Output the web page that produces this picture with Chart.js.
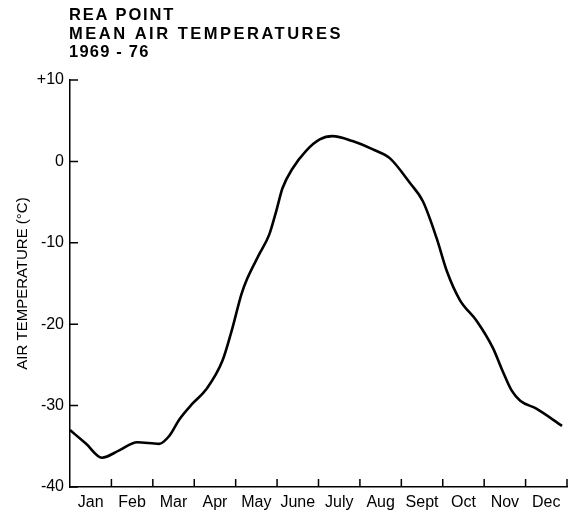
<!DOCTYPE html>
<html>
<head>
<meta charset="utf-8">
<script src="https://cdn.jsdelivr.net/npm/chart.js@4/dist/chart.umd.min.js"></script>
<style>
  html, body { margin: 0; padding: 0; background: #fff; }
  #wrap { width: 575px; height: 512px; }
</style>
</head>
<body>
<div id="wrap"><canvas id="grafico"></canvas></div>
<script>
// meses (etiquetas del eje x, centradas entre marcas)
const meses = ["Jan", "Feb", "Mar", "Apr", "May", "June", "July", "Aug", "Sept", "Oct", "Nov", "Dec"];

// posición en meses (0 = 1 enero, 12 = 31 dic) y temperatura media (°C)
const posMes = [0.00, 0.39, 0.77, 1.19, 1.62, 2.15, 2.40, 2.64, 2.95, 3.29, 3.68, 3.92, 4.14, 4.28,
  4.57, 4.81, 4.98, 5.13, 5.37, 5.70, 6.03, 6.34, 6.82, 7.30, 7.72, 8.20, 8.52, 8.85, 9.10,
  9.41, 9.82, 10.21, 10.45, 10.67, 10.87, 11.27, 11.88];
const temperatura = [-33.0, -34.7, -36.4, -35.5, -34.5, -34.7, -33.7, -31.7, -29.8, -28.0, -24.5, -20.5, -16.3, -14.4,
  -11.4, -9.0, -6.1, -3.3, -0.9, 1.3, 2.7, 3.1, 2.5, 1.5, 0.4, -2.6, -4.9, -9.4, -13.5,
  -17.0, -19.6, -22.9, -25.8, -28.2, -29.4, -30.4, -32.5];

// marcas del eje y
const ticksY = [-40, -30, -20, -10, 0, 10];

// título, línea por línea
const titulo = ["REA POINT", "MEAN AIR TEMPERATURES", "1969 - 76"];

const fuente = "'Liberation Sans', Arial, Helvetica, sans-serif";

// marcas hacia adentro + título con letras espaciadas
const extras = {
  id: "extras",
  afterDraw(chart) {
    const { ctx, scales: { x, y } } = chart;
    ctx.save();
    ctx.strokeStyle = "#000";
    ctx.lineWidth = 1.5;
    ctx.beginPath();
    for (let m = 1; m <= 12; m++) {
      const px = x.getPixelForValue(m);
      ctx.moveTo(px, y.bottom);
      ctx.lineTo(px, y.bottom - 8);
    }
    ticksY.forEach(v => {
      const py = y.getPixelForValue(v);
      ctx.moveTo(x.left, py);
      ctx.lineTo(x.left + 8, py);
    });
    ctx.stroke();

    ctx.fillStyle = "#000";
    ctx.font = "bold 16.5px " + fuente;
    ctx.textAlign = "left";
    ctx.textBaseline = "alphabetic";
    const espacios = ["1.8px", "2.5px", "1.2px"];
    const bases = [20, 38.5, 57];
    titulo.forEach((t, i) => {
      ctx.letterSpacing = espacios[i];
      ctx.fillText(t, 69, bases[i]);
    });
    ctx.letterSpacing = "0px";
    ctx.restore();
  }
};

new Chart(document.getElementById("grafico").getContext("2d"), {
  type: "line",
  data: {
    datasets: [{
      data: posMes.map((m, i) => ({ x: m, y: temperatura[i] })),
      borderColor: "#000",
      borderWidth: 2.6,
      pointRadius: 0,
      cubicInterpolationMode: "monotone",
      fill: false
    }]
  },
  options: {
    responsive: true,
    maintainAspectRatio: false,
    animation: false,
    layout: { padding: { left: 0, right: 8, top: 80, bottom: 0 } },
    plugins: {
      legend: { display: false },
      tooltip: { enabled: false },
      title: { display: false }
    },
    scales: {
      x: {
        type: "linear",
        min: 0,
        max: 12,
        afterFit: s => { s.height = 25; },
        afterBuildTicks: s => {
          s.ticks = [];
          for (let i = 0; i < 12; i++) s.ticks.push({ value: i + 0.5 });
        },
        ticks: {
          autoSkip: false,
          maxRotation: 0,
          padding: 6,
          color: "#000",
          font: { family: fuente, size: 16 },
          callback: v => meses[Math.floor(v)]
        },
        grid: { display: false, drawTicks: false },
        border: { display: true, color: "#000", width: 1.5 }
      },
      y: {
        min: -40,
        max: 10,
        afterFit: s => { s.width = 70; },
        afterBuildTicks: s => { s.ticks = ticksY.map(v => ({ value: v })); },
        ticks: {
          padding: 6,
          color: "#000",
          font: { family: fuente, size: 16 },
          callback: v => (v > 0 ? "+" + v : String(v))
        },
        grid: { display: false, drawTicks: false },
        border: { display: true, color: "#000", width: 1.5 },
        title: {
          display: true,
          text: "AIR TEMPERATURE (°C)",
          color: "#000",
          font: { family: fuente, size: 15 },
          padding: { top: 14, bottom: 0 }
        }
      }
    }
  },
  plugins: [extras]
});
</script>
</body>
</html>
